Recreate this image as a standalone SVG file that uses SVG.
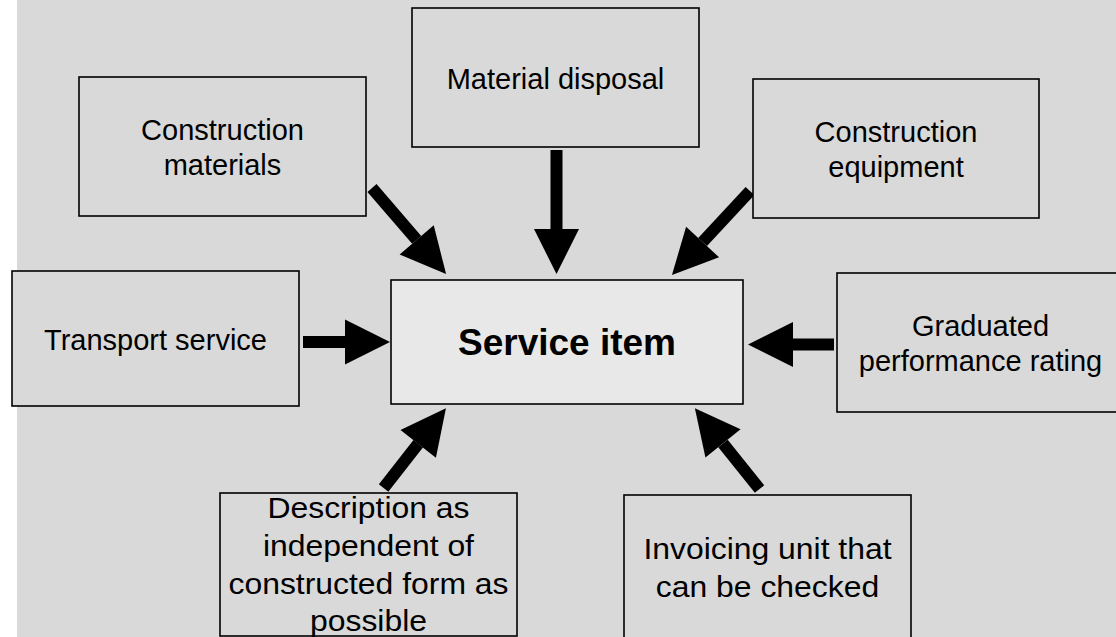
<svg xmlns="http://www.w3.org/2000/svg" width="1116" height="637" viewBox="0 0 1116 637">
<style>
.box{fill:#d9d9d9;stroke:#000;stroke-width:1.6}
.main{fill:#e8e8e8;stroke:#000;stroke-width:1.6}
.t{font-family:"Liberation Sans",Arial,sans-serif;font-size:29px;fill:#000;text-anchor:middle}
.tb{font-family:"Liberation Sans",Arial,sans-serif;font-size:37px;font-weight:bold;fill:#000;text-anchor:middle}
.arr{stroke:#000;stroke-width:12;fill:none;marker-end:url(#head)}
</style>
<defs>
<marker id="head" markerUnits="userSpaceOnUse" markerWidth="46" markerHeight="46" viewBox="0 -23 45 46" refX="0" refY="0" orient="auto">
<path d="M0,-22.5 L45,0 L0,22.5 Z" fill="#000"/>
</marker>
</defs>
<rect x="0" y="0" width="1116" height="637" fill="#ffffff"/>
<rect x="17" y="0" width="1099" height="637" fill="#d9d9d9"/>
<g id="connectors">
<line class="arr" x1="372" y1="188" x2="416.7" y2="239.9"/>
<line class="arr" x1="556.5" y1="150" x2="556.5" y2="229"/>
<line class="arr" x1="750" y1="191" x2="702.6" y2="242"/>
<line class="arr" x1="303" y1="342" x2="345" y2="342"/>
<line class="arr" x1="834" y1="344.5" x2="793" y2="344.5"/>
<line class="arr" x1="383.6" y1="488" x2="418.2" y2="443.8"/>
<line class="arr" x1="759.5" y1="489" x2="723" y2="443.4"/>
</g>
<g id="construction-materials">
<rect class="box" x="79" y="77" width="287" height="139"/>
<text class="t" x="222.5" y="140">Construction</text>
<text class="t" x="222.5" y="175">materials</text>
</g>
<g id="material-disposal">
<rect class="box" x="412" y="8" width="287" height="139"/>
<text class="t" x="555.5" y="89">Material disposal</text>
</g>
<g id="construction-equipment">
<rect class="box" x="753" y="79" width="286" height="139"/>
<text class="t" x="896" y="141.5">Construction</text>
<text class="t" x="896" y="176.5">equipment</text>
</g>
<g id="transport-service">
<rect class="box" x="12" y="271" width="287" height="135"/>
<text class="t" x="155.5" y="350">Transport service</text>
</g>
<g id="service-item">
<rect class="main" x="391" y="280" width="352" height="124"/>
<text class="tb" x="567" y="355">Service item</text>
</g>
<g id="graduated-performance-rating">
<rect class="box" x="837" y="273" width="287" height="139"/>
<text class="t" x="980.5" y="336">Graduated</text>
<text class="t" x="980.5" y="371">performance rating</text>
</g>
<g id="description">
<rect class="box" x="220" y="493" width="297" height="143"/>
<g transform="matrix(1.1,0,0,1,-36.85,0)">
<text class="t" x="368.5" y="518">Description as</text>
<text class="t" x="368.5" y="556">independent of</text>
<text class="t" x="368.5" y="594">constructed form as</text>
<text class="t" x="368.5" y="631">possible</text>
</g>
</g>
<g id="invoicing-unit">
<rect class="box" x="624" y="495" width="287" height="150"/>
<g transform="matrix(1.1,0,0,1,-76.75,0)">
<text class="t" x="767.5" y="559">Invoicing unit that</text>
<text class="t" x="767.5" y="597">can be checked</text>
</g>
</g>
</svg>
